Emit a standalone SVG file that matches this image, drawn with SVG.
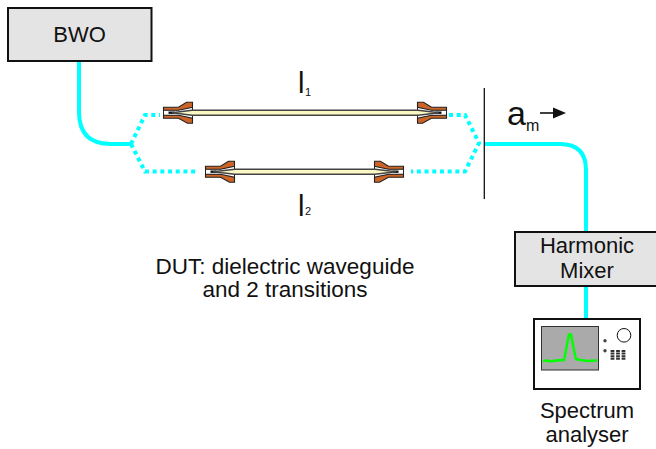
<svg xmlns="http://www.w3.org/2000/svg" width="656" height="449" viewBox="0 0 656 449">
<style>
text{font-family:"Liberation Sans",Arial,sans-serif;fill:#111}
.t{font-size:22px;text-anchor:middle}
.dut{font-size:22.500px;text-anchor:middle}
.box{fill:#e4e4e4;stroke:#111;stroke-width:2}
.c{fill:none;stroke:#0ff;stroke-width:4}
.d{fill:none;stroke:#0ff;stroke-width:4;stroke-dasharray:4 3.700}
.cu{fill:#cc6428;stroke:#222;stroke-width:1.100}
.wg{fill:#fbf8c4;stroke:#444;stroke-width:1.400}
</style>
<defs>
<g id="tr">
<path d="M0-3H15L29-7V7L15 3H0Z" fill="#fff" stroke="#222" stroke-width="1"/>
<path class="cu" d="M0-5.500H15L23-10.500H29V-5.500L15-2.500H0Z"/>
<path class="cu" d="M0 5.500H15L24 10.500H29V5.500L15 2.500H0Z"/>
<path d="M5-1.200H11V1.200H5Z" fill="#111"/>
</g>
</defs>
<g id="connectors">
<path class="c" d="M79 62V112Q79 144 111 144H131"/>
<path class="d" d="M131 144L145 115H160"/>
<path class="d" d="M131 144L145 171.500H198"/>
<path class="d" d="M449 115H465L479 143L465 171.500H411"/>
<path class="c" d="M484 144H560Q586 144 586 170V232"/>
<path class="c" d="M586 286V318"/>
<path d="M484.300 88V199" stroke="#111" stroke-width="1.300" fill="none"/>
<path d="M540 113H556" stroke="#111" stroke-width="1.600"/>
<path d="M566 113L553 107.500V118.500Z" fill="#111"/>
</g>
<g id="BWO">
<rect class="box" x="8" y="8" width="143.500" height="53"/>
<text class="t" x="79.500" y="42">BWO</text>
</g>
<g id="guide1">
<use href="#tr" transform="translate(163.500 112.700)"/>
<use href="#tr" transform="translate(446.500 112.700) scale(-1 1)"/>
<path class="wg" d="M172 112.700L192 110.200H418L439 112.700L418 115.200H192Z"/>
<text x="298" y="93" font-size="29">l</text>
<text x="305" y="96" font-size="11">1</text>
</g>
<g id="guide2">
<use href="#tr" transform="translate(205.500 171.700)"/>
<use href="#tr" transform="translate(403.500 171.700) scale(-1 1)"/>
<path class="wg" d="M213 171.700L235 169.200H375L396 171.700L375 174.200H235Z"/>
<text x="298" y="216" font-size="29">l</text>
<text x="305" y="215" font-size="11">2</text>
</g>
<g id="am">
<text x="507" y="125" font-size="34">a</text>
<text x="526" y="131" font-size="16">m</text>
</g>
<g id="DUT">
<text class="dut" x="285" y="274">DUT: dielectric waveguide</text>
<text class="dut" x="285" y="297">and 2 transitions</text>
</g>
<g id="mixer">
<rect class="box" x="515" y="232" width="144" height="54"/>
<text class="t" x="587" y="253">Harmonic</text>
<text class="t" x="587" y="278">Mixer</text>
</g>
<g id="analyser">
<rect x="534" y="319" width="106" height="70" fill="#fff" stroke="#111" stroke-width="2"/>
<rect x="541.500" y="326.500" width="57" height="43.500" fill="#aaa" stroke="#333"/>
<path d="M543 361L548 360.500L550 361.500L556 360.500L564 360L566 350L569 334.500L571 334.500L574 350L576 359L580 360L588 361L597 360.500" fill="none" stroke="#0f0" stroke-width="2.400"/>
<circle cx="624" cy="335.300" r="6.800" fill="#fff" stroke="#111"/>
<circle cx="605" cy="340.700" r="1.700" fill="#444"/>
<circle cx="605" cy="350.700" r="1.700" fill="#444"/>
<path d="M612.500 350V360M618 350V360M623.500 350V360" stroke="#333" stroke-width="3.800" stroke-dasharray="2 .6" fill="none"/>
<text class="t" x="587" y="418">Spectrum</text>
<text class="t" x="587" y="442">analyser</text>
</g>
</svg>
